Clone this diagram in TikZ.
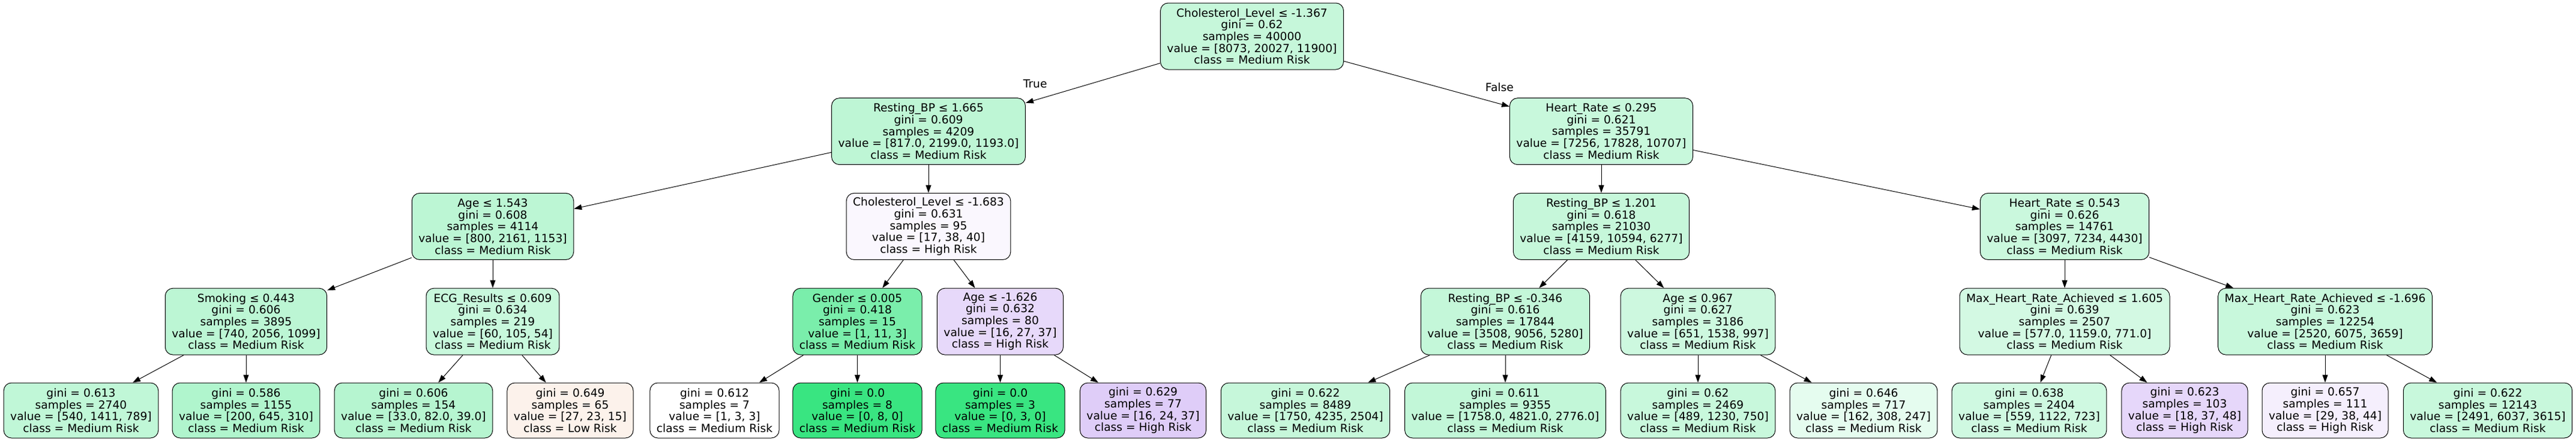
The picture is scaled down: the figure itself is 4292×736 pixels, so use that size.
\documentclass[tikz,border=0pt]{standalone}
\usepackage{fontspec}
\setmainfont{DejaVu Sans}
\usetikzlibrary{arrows.meta, positioning}

\definecolor{lowrisk}{HTML}{E58139}
\definecolor{medrisk}{HTML}{39E581}
\definecolor{highrisk}{HTML}{8139E5}

\begin{document}
\begin{tikzpicture}[
    line width=1pt,
    font=\fontsize{18.67}{19.7}\selectfont,
    node distance={158.7pt},
    >={Triangle[length=13pt, width=9pt]},
    box/.style={draw, rounded corners=13pt, align=center, inner xsep=11pt, inner ysep=0pt},
    split/.style={box, minimum height=111pt},
    leaf/.style={box, minimum height=92pt, node distance={148.4pt}},
    side/.style={inner sep=0pt, above=20pt}
]

\useasboundingbox (0pt,0pt) rectangle (4292pt,-736pt);

% split nodes
\node[split, fill=medrisk!29] (n0) at (2086pt,-60.5pt) {Cholesterol\_Level ≤ -1.367\\gini = 0.62\\samples = 40000\\value = [8073, 20027, 11900]\\class = Medium Risk};
\node[split, fill=medrisk!33] (n1) [below of=n0, xshift=-539pt] {Resting\_BP ≤ 1.665\\gini = 0.609\\samples = 4209\\value = [817.0, 2199.0, 1193.0]\\class = Medium Risk};
\node[split, fill=medrisk!28] (n16) [below of=n0, xshift=582pt] {Heart\_Rate ≤ 0.295\\gini = 0.621\\samples = 35791\\value = [7256, 17828, 10707]\\class = Medium Risk};
\node[split, fill=medrisk!34] (n2) [below of=n1, xshift=-726pt] {Age ≤ 1.543\\gini = 0.608\\samples = 4114\\value = [800, 2161, 1153]\\class = Medium Risk};
\node[split, fill=highrisk!4] (n9) [below of=n1] {Cholesterol\_Level ≤ -1.683\\gini = 0.631\\samples = 95\\value = [17, 38, 40]\\class = High Risk};
\node[split, fill=medrisk!29] (n17) [below of=n16] {Resting\_BP ≤ 1.201\\gini = 0.618\\samples = 21030\\value = [4159, 10594, 6277]\\class = Medium Risk};
\node[split, fill=medrisk!27] (n24) [below of=n16, xshift=772pt] {Heart\_Rate ≤ 0.543\\gini = 0.626\\samples = 14761\\value = [3097, 7234, 4430]\\class = Medium Risk};
\node[split, fill=medrisk!34] (n3) [below of=n2, xshift=-411pt] {Smoking ≤ 0.443\\gini = 0.606\\samples = 3895\\value = [740, 2056, 1099]\\class = Medium Risk};
\node[split, fill=medrisk!28] (n6) [below of=n2] {ECG\_Results ≤ 0.609\\gini = 0.634\\samples = 219\\value = [60, 105, 54]\\class = Medium Risk};
\node[split, fill=medrisk!67] (n10) [below of=n9, xshift=-118.5pt] {Gender ≤ 0.005\\gini = 0.418\\samples = 15\\value = [1, 11, 3]\\class = Medium Risk};
\node[split, fill=highrisk!19] (n13) [below of=n9, xshift=119.5pt] {Age ≤ -1.626\\gini = 0.632\\samples = 80\\value = [16, 27, 37]\\class = High Risk};
\node[split, fill=medrisk!30] (n18) [below of=n17, xshift=-160pt] {Resting\_BP ≤ -0.346\\gini = 0.616\\samples = 17844\\value = [3508, 9056, 5280]\\class = Medium Risk};
\node[split, fill=medrisk!25] (n21) [below of=n17, xshift=161pt] {Age ≤ 0.967\\gini = 0.627\\samples = 3186\\value = [651, 1538, 997]\\class = Medium Risk};
\node[split, fill=medrisk!22] (n25) [below of=n24] {Max\_Heart\_Rate\_Achieved ≤ 1.605\\gini = 0.639\\samples = 2507\\value = [577.0, 1159.0, 771.0]\\class = Medium Risk};
\node[split, fill=medrisk!28] (n28) [below of=n24, xshift=434pt] {Max\_Heart\_Rate\_Achieved ≤ -1.696\\gini = 0.623\\samples = 12254\\value = [2520, 6075, 3659]\\class = Medium Risk};

% leaves
\node[leaf, fill=medrisk!32] (n4) [below of=n3, xshift=-275pt] {gini = 0.613\\samples = 2740\\value = [540, 1411, 789]\\class = Medium Risk};
\node[leaf, fill=medrisk!40] (n5) [below of=n3] {gini = 0.586\\samples = 1155\\value = [200, 645, 310]\\class = Medium Risk};
\node[leaf, fill=medrisk!37] (n7) [below of=n6, xshift=-132pt] {gini = 0.606\\samples = 154\\value = [33.0, 82.0, 39.0]\\class = Medium Risk};
\node[leaf, fill=lowrisk!10] (n8) [below of=n6, xshift=129pt] {gini = 0.649\\samples = 65\\value = [27, 23, 15]\\class = Low Risk};
\node[leaf, fill=white] (n11) [below of=n10, xshift=-238pt] {gini = 0.612\\samples = 7\\value = [1, 3, 3]\\class = Medium Risk};
\node[leaf, fill=medrisk] (n12) [below of=n10] {gini = 0.0\\samples = 8\\value = [0, 8, 0]\\class = Medium Risk};
\node[leaf, fill=medrisk] (n14) [below of=n13] {gini = 0.0\\samples = 3\\value = [0, 3, 0]\\class = Medium Risk};
\node[leaf, fill=highrisk!25] (n15) [below of=n13, xshift=238pt] {gini = 0.629\\samples = 77\\value = [16, 24, 37]\\class = High Risk};
\node[leaf, fill=medrisk!29] (n19) [below of=n18, xshift=-333pt] {gini = 0.622\\samples = 8489\\value = [1750, 4235, 2504]\\class = Medium Risk};
\node[leaf, fill=medrisk!31] (n20) [below of=n18] {gini = 0.611\\samples = 9355\\value = [1758.0, 4821.0, 2776.0]\\class = Medium Risk};
\node[leaf, fill=medrisk!28] (n22) [below of=n21] {gini = 0.62\\samples = 2469\\value = [489, 1230, 750]\\class = Medium Risk};
\node[leaf, fill=medrisk!13] (n23) [below of=n21, xshift=276pt] {gini = 0.646\\samples = 717\\value = [162, 308, 247]\\class = Medium Risk};
\node[leaf, fill=medrisk!24] (n26) [below of=n25, xshift=-59pt] {gini = 0.638\\samples = 2404\\value = [559, 1122, 723]\\class = Medium Risk};
\node[leaf, fill=highrisk!20] (n27) [below of=n25, xshift=200pt] {gini = 0.623\\samples = 103\\value = [18, 37, 48]\\class = High Risk};
\node[leaf, fill=highrisk!8] (n29) [below of=n28] {gini = 0.657\\samples = 111\\value = [29, 38, 44]\\class = High Risk};
\node[leaf, fill=medrisk!28] (n30) [below of=n28, xshift=271pt] {gini = 0.622\\samples = 12143\\value = [2491, 6037, 3615]\\class = Medium Risk};

\path[->]
    (n0)  edge node[side, pos=0.93] {True} (n1)
    (n0)  edge node[side, pos=0.94] {False} (n16)
    (n1)  edge (n2)
    (n1)  edge (n9)
    (n2)  edge (n3)
    (n2)  edge (n6)
    (n3)  edge (n4)
    (n3)  edge (n5)
    (n6)  edge (n7)
    (n6)  edge (n8)
    (n9)  edge (n10)
    (n9)  edge (n13)
    (n10) edge (n11)
    (n10) edge (n12)
    (n13) edge (n14)
    (n13) edge (n15)
    (n16) edge (n17)
    (n16) edge (n24)
    (n17) edge (n18)
    (n17) edge (n21)
    (n18) edge (n19)
    (n18) edge (n20)
    (n21) edge (n22)
    (n21) edge (n23)
    (n24) edge (n25)
    (n24) edge (n28)
    (n25) edge (n26)
    (n25) edge (n27)
    (n28) edge (n29)
    (n28) edge (n30)
    ;

\end{tikzpicture}
\end{document}
